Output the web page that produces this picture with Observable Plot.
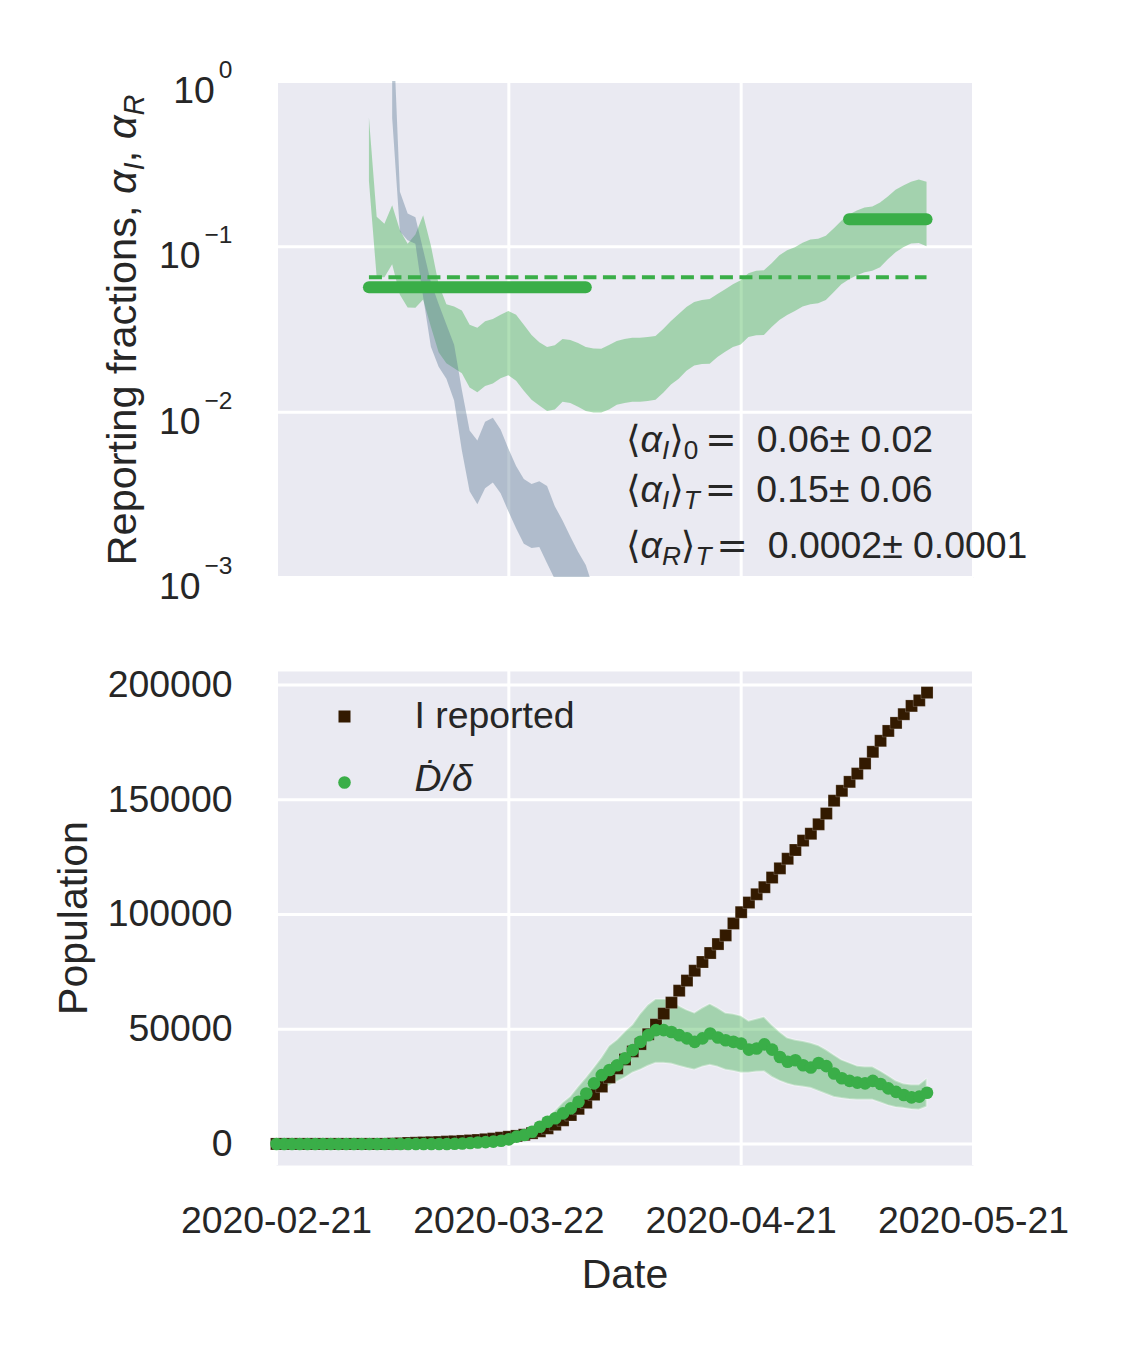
<!DOCTYPE html>
<html>
<head>
<meta charset="utf-8">
<script src="https://cdn.jsdelivr.net/npm/d3@7"></script>
<script src="https://cdn.jsdelivr.net/npm/@observablehq/plot@0.6"></script>
<style>
  body { margin: 0; background: #ffffff; }
  #wrap { position: relative; width: 1125px; height: 1350px; background: #ffffff; overflow: hidden; }
  #wrap svg { position: absolute; left: 0; }
</style>
</head>
<body>
<div id="wrap"></div>
<script>
// ---------------- data ----------------
const startDate = "2020-02-21";
const tickDates = ["2020-02-21", "2020-03-22", "2020-04-21", "2020-05-21"];
const xLimits = ["2020-02-21", "2020-05-21"];
const logTicks = [0.001, 0.01, 0.1, 1];
const popTicks = [0, 50000, 100000, 150000, 200000];

// reporting fraction alpha_I credible band (daily, from day 12 after start)
const alphaIStartDay = 12;
const alphaILow = [0.248,0.065,0.065,0.078,0.051,0.0427,0.0425,0.0477,0.0326,0.0229,
  0.0196,0.0183,0.0171,0.0140,0.0131,0.0143,0.0148,0.0159,0.0166,0.0154,
  0.0134,0.0118,0.0109,0.0101,0.0103,0.0115,0.0113,0.0107,0.0101,0.0099,
  0.0099,0.0103,0.0110,0.0113,0.0115,0.0115,0.0116,0.0118,0.0130,0.0146,
  0.0158,0.0177,0.0190,0.0194,0.0195,0.0214,0.0230,0.0246,0.0255,0.0283,
  0.0290,0.0291,0.0325,0.0358,0.0384,0.0406,0.0432,0.0447,0.0452,0.0473,
  0.0528,0.0590,0.0633,0.0669,0.0697,0.0712,0.0747,0.0835,0.0920,0.0986,
  0.1040,0.1047,0.1000];
const alphaIHigh = [0.60,0.151,0.137,0.177,0.125,0.1035,0.118,0.154,0.101,0.0589,
  0.0446,0.0433,0.0409,0.0336,0.0322,0.0352,0.0363,0.0386,0.0407,0.0386,
  0.0335,0.0291,0.0263,0.0246,0.0252,0.0275,0.0271,0.0260,0.0246,0.0241,
  0.0240,0.0253,0.0268,0.0275,0.0280,0.0280,0.0283,0.0287,0.0316,0.0354,
  0.0390,0.0430,0.0460,0.0473,0.0480,0.0514,0.0551,0.0590,0.0624,0.0688,
  0.0712,0.0716,0.0790,0.0883,0.0946,0.0986,0.1050,0.1100,0.1110,0.1160,
  0.1280,0.1430,0.1560,0.1650,0.1720,0.1740,0.1840,0.2000,0.2200,0.2330,
  0.2460,0.2540,0.2460];

// reporting fraction alpha_R band (daily, from day 15)
const alphaRStartDay = 15;
const alphaRLow = [0.6,0.123,0.109,0.1035,0.0493,0.0247,0.0187,0.0158,0.0117,0.00582,
  0.0033,0.00275,0.00344,0.00373,0.00321,0.0025,0.00197,0.00159,0.0015,0.00152,
  0.00121,0.00097,0.00076,0.0006,0.0005,0.0004,0.00033];
const alphaRHigh = [3.0,0.214,0.158,0.150,0.0953,0.0607,0.0448,0.0337,0.0254,0.0135,
  0.00769,0.00669,0.0087,0.0092,0.0078,0.00598,0.0047,0.00391,0.00365,0.0038,
  0.00355,0.00268,0.0022,0.00176,0.00142,0.00118,0.00085];

// mean reporting fractions (segments: start day, end day, value)
const fitStartDay = [12, 74];
const fitEndDay = [40, 84];
const fitValue = [0.057, 0.147];
const overallStartDay = [12];
const overallEndDay = [84];
const overallValue = [0.0654];

// population panel (daily from start date)
const iReported = [0,0,0,0,0,0,0,0,0,0,
  0,0,0,0,0,100,200,400,500,600,
  700,800,1000,1100,1300,1500,1700,2000,2300,2700,
  3100,3500,4000,4700,5500,6800,8400,10300,12600,15300,
  18000,21500,25000,29000,32900,36800,40300,43500,47800,52000,
  56800,61600,66800,71200,75500,79300,83200,87100,90900,96100,
  101000,105200,108800,111900,116100,120100,124300,128100,132200,135200,
  139300,144000,149600,153900,157800,161400,165800,170900,175700,180000,
  183500,187300,190900,193300,196700];
const dDotOverDelta = [0,0,0,0,0,0,0,0,0,0,
  0,0,0,0,0,0,0,0,0,0,
  0,0,0,100,200,400,600,800,1000,1400,
  2000,3200,3900,5300,7500,9700,11200,13300,15500,18400,
  22000,26400,30000,32200,34300,37300,40900,44500,47400,49600,
  49600,48800,47400,46000,44500,46000,48100,46400,45200,44500,
  43700,41100,41600,43400,41100,37900,35800,36500,34300,33300,
  35300,33900,30700,28600,27500,26700,26400,27500,26100,24200,
  22700,21300,20300,20600,22300];
const dBandStartDay = 28;
const dBandLow = [700,1100,1500,2400,3000,4200,6100,7400,9600,11700,
  13500,15700,18300,20400,23000,25200,27000,28700,30900,32200,
  33900,35200,35200,34800,33900,33000,32200,33500,34300,33500,
  32200,31700,30900,30900,31300,31500,29100,27400,26100,25200,
  24800,24300,23000,21700,20400,19800,19400,19200,19100,19100,
  18000,16700,15900,15500,15000,14800,16100];
const dBandHigh = [1300,1800,2600,3800,4900,6800,9100,11300,14300,17800,
  20600,24800,28700,33000,37400,42600,45200,48700,51700,56500,
  60400,63000,63000,62600,60000,58300,57000,59100,60900,59100,
  57000,56500,55700,53500,54300,55200,51700,48700,46100,45200,
  44600,43900,42800,40900,38700,36500,35200,33900,33500,33500,
  31700,29600,27400,26100,25700,25700,28300];

// ---------------- helpers ----------------
const FONT = '"Liberation Sans", Arial, "DejaVu Sans", sans-serif';
const TXT = "#262626";
const GREEN = "#3aae48";
const SLATE = "#597793";
const BROWN = "#331a00";
const BG = "#eaeaf2";
const NS = "http://www.w3.org/2000/svg";
const TICK = 37.4;
const LABEL = 41;

const t0 = new Date(startDate);
const dayDate = i => d3.utcDay.offset(t0, i);
const xDomain = xLimits.map(s => new Date(s));
const xTicks = tickDates.map(s => new Date(s));

const bandRows = (startDay, lo, hi) => lo.map((v, i) => ({date: dayDate(startDay + i), lo: v, hi: hi[i]}));
const aIRows = bandRows(alphaIStartDay, alphaILow, alphaIHigh);
const aRRows = bandRows(alphaRStartDay, alphaRLow, alphaRHigh);
const fitRows = fitValue.map((v, i) => ({value: v, start: dayDate(fitStartDay[i]), end: dayDate(fitEndDay[i])}));
const overallRows = overallValue.map((v, i) => ({value: v, start: dayDate(overallStartDay[i]), end: dayDate(overallEndDay[i])}));
const popRows = iReported.map((v, i) => ({date: dayDate(i), iRep: v, dd: dDotOverDelta[i]}));
const dBandRows = bandRows(dBandStartDay, dBandLow, dBandHigh);

function mathText(svg, parts, o) {
  const t = document.createElementNS(NS, "text");
  t.setAttribute("x", o.x || 0);
  t.setAttribute("y", o.y || 0);
  t.setAttribute("font-size", o.size);
  t.setAttribute("font-family", FONT);
  t.setAttribute("fill", TXT);
  t.setAttribute("text-anchor", o.anchor || "start");
  if (o.transform) t.setAttribute("transform", o.transform);
  const subSize = o.size * 0.7;
  const subShift = o.size * 0.2;
  let shift = 0;
  for (const p of parts) {
    const s = document.createElementNS(NS, "tspan");
    const target = p.sub ? subShift : 0;
    if (target !== shift) { s.setAttribute("dy", target - shift); shift = target; }
    if (p.sub) s.setAttribute("font-size", subSize);
    if (p.it) s.setAttribute("font-style", "italic");
    if (p.dx) s.setAttribute("dx", p.dx);
    if (p.font) s.setAttribute("font-family", p.font);
    s.textContent = p.t;
    t.appendChild(s);
  }
  svg.appendChild(t);
}

// ---------------- top panel ----------------
const topPlot = Plot.plot({
  width: 1125, height: 620,
  marginLeft: 276, marginRight: 152, marginTop: 81, marginBottom: 43,
  style: {fontFamily: FONT, color: TXT, background: "transparent", overflow: "visible"},
  x: {type: "utc", domain: xDomain, axis: null},
  y: {type: "log", domain: [1e-3, 1], axis: null},
  marks: [
    Plot.frame({fill: BG, stroke: "none"}),
    Plot.gridX(xTicks, {stroke: "#ffffff", strokeOpacity: 1, strokeWidth: 3}),
    Plot.gridY(logTicks, {stroke: "#ffffff", strokeOpacity: 1, strokeWidth: 3}),
    Plot.areaY(aIRows, {x: "date", y1: "lo", y2: "hi", fill: GREEN, fillOpacity: 0.4, clip: true}),
    Plot.areaY(aRRows, {x: "date", y1: "lo", y2: "hi", fill: SLATE, fillOpacity: 0.4, clip: true}),
    Plot.ruleY(overallRows, {y: "value", x1: "start", x2: "end", stroke: GREEN, strokeWidth: 4, strokeDasharray: "13,6.5"}),
    Plot.ruleY(fitRows, {y: "value", x1: "start", x2: "end", stroke: GREEN, strokeWidth: 12, strokeLinecap: "round"}),
    Plot.text(logTicks, {y: d => d, frameAnchor: "left", dx: -44, textAnchor: "end", lineAnchor: "middle",
      fontSize: TICK, fill: TXT, text: d => "E" + Math.round(Math.log10(d))})
  ]
});
topPlot.style.top = "0px";

// render log ticks as 10^k
topPlot.querySelectorAll("text").forEach(t => {
  const m = /^E(-?\d+)$/.exec(t.textContent);
  if (!m) return;
  const k = m[1].replace("-", "\u2212");
  t.textContent = "";
  const base = document.createElementNS(NS, "tspan");
  base.setAttribute("dy", 9.4);
  base.textContent = "10";
  const ex = document.createElementNS(NS, "tspan");
  ex.setAttribute("dy", -25);
  ex.setAttribute("dx", 4);
  ex.setAttribute("font-size", 24.5);
  ex.textContent = k;
  t.appendChild(base);
  t.appendChild(ex);
});

// y label of top panel
mathText(topPlot, [
  {t: "Reporting fractions, "}, {t: "\u03b1", it: true}, {t: "I", it: true, sub: true},
  {t: ", "}, {t: "\u03b1", it: true}, {t: "R", it: true, sub: true}
], {size: 41.5, anchor: "middle", transform: "translate(136,330) rotate(-90)"});

// annotation
const S = 37.4;
mathText(topPlot, [
  {t: "\u27e8"}, {t: "\u03b1", it: true}, {t: "I", it: true, sub: true}, {t: "\u27e9"}, {t: "0", sub: true},
  {t: "=", dx: 7, font: '"DejaVu Sans", sans-serif'}, {t: "0.06\u00b1 0.02", dx: 20}
], {x: 626, y: 452, size: S});
mathText(topPlot, [
  {t: "\u27e8"}, {t: "\u03b1", it: true}, {t: "I", it: true, sub: true}, {t: "\u27e9"}, {t: "T", it: true, sub: true},
  {t: "=", dx: 5, font: '"DejaVu Sans", sans-serif'}, {t: "0.15\u00b1 0.06", dx: 20}
], {x: 626, y: 502, size: S});
mathText(topPlot, [
  {t: "\u27e8"}, {t: "\u03b1", it: true}, {t: "R", it: true, sub: true}, {t: "\u27e9"}, {t: "T", it: true, sub: true},
  {t: "=", dx: 5, font: '"DejaVu Sans", sans-serif'}, {t: "0.0002\u00b1 0.0001", dx: 20}
], {x: 626, y: 558, size: S});

// ---------------- bottom panel ----------------
const bottomPlot = Plot.plot({
  width: 1125, height: 730,
  marginLeft: 276, marginRight: 152, marginTop: 51, marginBottom: 185,
  style: {fontFamily: FONT, color: TXT, background: "transparent", overflow: "visible"},
  x: {type: "utc", domain: xDomain},
  y: {domain: [-9400, 205900]},
  marks: [
    Plot.frame({fill: BG, stroke: "none"}),
    Plot.gridX(xTicks, {stroke: "#ffffff", strokeOpacity: 1, strokeWidth: 3}),
    Plot.gridY(popTicks, {stroke: "#ffffff", strokeOpacity: 1, strokeWidth: 3}),
    Plot.areaY(dBandRows, {x: "date", y1: "lo", y2: "hi", fill: GREEN, fillOpacity: 0.4,
      stroke: "#ffffff", strokeOpacity: 0.35, strokeWidth: 2}),
    Plot.dot(popRows, {x: "date", y: "iRep", symbol: "square", r: 6.77, fill: BROWN,
      stroke: "#ffffff", strokeOpacity: 0.25, strokeWidth: 0.8}),
    Plot.dot(popRows, {x: "date", y: "dd", r: 6.3, fill: GREEN}),
    Plot.axisX(xTicks, {tickSize: 0, tickPadding: 41, fontSize: TICK, label: null, fill: TXT,
      tickFormat: d3.utcFormat("%Y-%m-%d")}),
    Plot.axisY(popTicks, {tickSize: 0, tickPadding: 44, fontSize: TICK, label: null, fill: TXT,
      tickFormat: d3.format("d")}),
    Plot.text(["Date"], {text: d => d, frameAnchor: "bottom", dy: 109.5, lineAnchor: "middle", fontSize: LABEL, fill: TXT}),
    // legend
    Plot.dot(["I reported"], {frameAnchor: "top-left", dx: 68, dy: 45, symbol: "square", r: 6.77, fill: BROWN}),
    Plot.dot(["D/delta"], {frameAnchor: "top-left", dx: 68, dy: 111, r: 6.3, fill: GREEN}),
    Plot.text(["I reported"], {text: d => d, frameAnchor: "top-left", dx: 138, dy: 45, textAnchor: "start",
      lineAnchor: "middle", fontSize: TICK, fill: TXT}),
    Plot.text(["\u1e0a/\u03b4"], {text: d => d, frameAnchor: "top-left", dx: 138, dy: 108, textAnchor: "start",
      lineAnchor: "middle", fontSize: TICK, fontStyle: "italic", fill: TXT})
  ]
});
bottomPlot.style.top = "620px";

mathText(bottomPlot, [{t: "Population"}], {size: LABEL, anchor: "middle", transform: "translate(87,298) rotate(-90)"});

const wrap = document.getElementById("wrap");
wrap.appendChild(topPlot);
wrap.appendChild(bottomPlot);
</script>
</body>
</html>
